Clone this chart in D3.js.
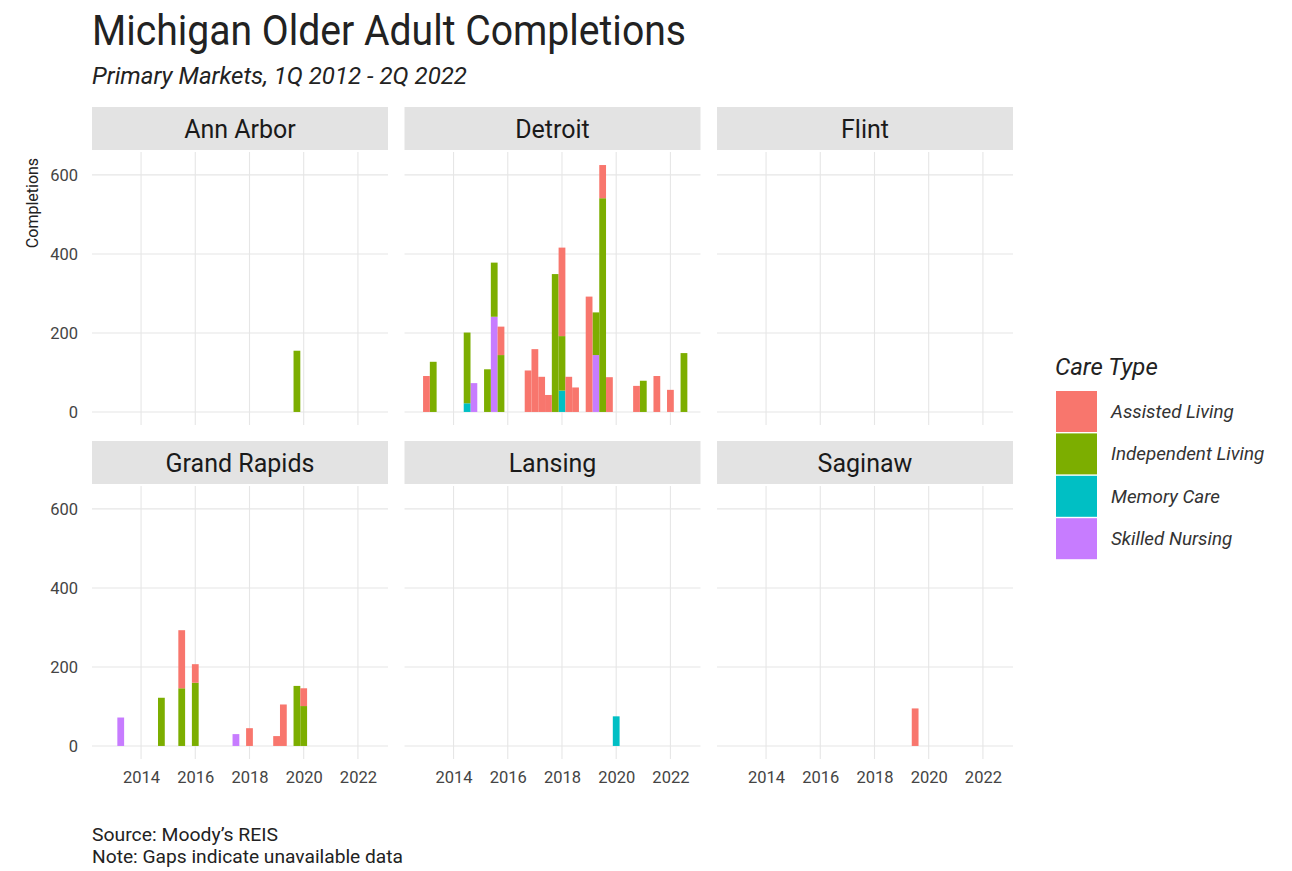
<!DOCTYPE html>
<html>
<head>
<meta charset="utf-8">
<script src="https://cdnjs.cloudflare.com/ajax/libs/d3/7.8.5/d3.min.js"></script>
<style>
  body { margin: 0; background: #fff; }
  text { font-family: Roboto, "Noto Sans", sans-serif; }
</style>
</head>
<body>
<div id="chart"></div>
<script>
(function() {
  // care types in legend order (first level is drawn on top of the stack)
  const careTypes = ['Assisted Living', 'Independent Living', 'Memory Care', 'Skilled Nursing'];
  const careColors = ['#F8766D', '#7CAE00', '#00BFC4', '#C77CFF'];

  const markets = ['Ann Arbor', 'Detroit', 'Flint', 'Grand Rapids', 'Lansing', 'Saginaw'];

  // rows: quarter, Assisted, Independent, Memory, Skilled
  const annArbor = [
    ['2019Q3', 0, 155, 0, 0]
  ];
  const detroit = [
    ['2012Q4', 91, 0, 0, 0],
    ['2013Q1', 0, 127, 0, 0],
    ['2014Q2', 0, 179, 22, 0],
    ['2014Q3', 0, 0, 0, 73],
    ['2015Q1', 0, 108, 0, 0],
    ['2015Q2', 0, 137, 0, 241],
    ['2015Q3', 72, 144, 0, 0],
    ['2016Q3', 105, 0, 0, 0],
    ['2016Q4', 159, 0, 0, 0],
    ['2017Q1', 89, 0, 0, 0],
    ['2017Q2', 43, 0, 0, 0],
    ['2017Q3', 0, 349, 0, 0],
    ['2017Q4', 224, 138, 54, 0],
    ['2018Q1', 89, 0, 0, 0],
    ['2018Q2', 62, 0, 0, 0],
    ['2018Q4', 292, 0, 0, 0],
    ['2019Q1', 0, 108, 0, 144],
    ['2019Q2', 84, 541, 0, 0],
    ['2019Q3', 88, 0, 0, 0],
    ['2020Q3', 66, 0, 0, 0],
    ['2020Q4', 0, 79, 0, 0],
    ['2021Q2', 91, 0, 0, 0],
    ['2021Q4', 56, 0, 0, 0],
    ['2022Q2', 0, 149, 0, 0]
  ];
  const flint = [];
  const grandRapids = [
    ['2013Q1', 0, 0, 0, 72],
    ['2014Q3', 0, 122, 0, 0],
    ['2015Q2', 147, 146, 0, 0],
    ['2015Q4', 47, 160, 0, 0],
    ['2017Q2', 0, 0, 0, 30],
    ['2017Q4', 45, 0, 0, 0],
    ['2018Q4', 25, 0, 0, 0],
    ['2019Q1', 105, 0, 0, 0],
    ['2019Q3', 0, 152, 0, 0],
    ['2019Q4', 45, 101, 0, 0]
  ];
  const lansing = [
    ['2019Q4', 0, 0, 75, 0]
  ];
  const saginaw = [
    ['2019Q2', 95, 0, 0, 0]
  ];
  const marketData = [annArbor, detroit, flint, grandRapids, lansing, saginaw];

  const yearTicks = [2014, 2016, 2018, 2020, 2022];
  const valueTicks = [0, 200, 400, 600];

  const width = 1292, height = 871;
  const panelW = 296, panelH = 273;
  const colX = [92, 404.5, 717];
  const rowY = [152, 486];

  const svg = d3.select('#chart')
    .append('svg')
      .attr('width', width)
      .attr('height', height);

  const x = d3.scaleLinear().domain([2012.19, 2023.11]).range([0, panelW]);
  const y = d3.scaleLinear().domain([-33, 658]).range([panelH, 0]);
  const color = d3.scaleOrdinal().domain(careTypes).range(careColors);

  // quarter "2019Q3" -> end-of-quarter decimal year
  const qPos = q => +q.slice(0, 4) + (+q.slice(5)) / 4;
  const barW = x(0.25) - x(0);

  // bottom of stack first: Skilled, Memory, Independent, Assisted
  const stack = d3.stack().keys(careTypes.slice().reverse());

  // titles
  svg.append('text')
    .attr('x', 92).attr('y', 45)
    .attr('font-size', 42).attr('fill', '#222')
    .attr('textLength', 594).attr('lengthAdjust', 'spacingAndGlyphs')
    .text('Michigan Older Adult Completions');

  svg.append('text')
    .attr('x', 92).attr('y', 84)
    .attr('font-size', 23).attr('font-style', 'italic').attr('fill', '#222')
    .attr('textLength', 375).attr('lengthAdjust', 'spacingAndGlyphs')
    .text('Primary Markets, 1Q 2012 - 2Q 2022');

  markets.forEach((name, i) => {
    const col = i % 3, row = Math.floor(i / 3);
    const g = svg.append('g')
      .attr('transform', `translate(${colX[col]}, ${rowY[row]})`);

    // strip
    g.append('rect')
      .attr('x', 0).attr('y', -45)
      .attr('width', panelW).attr('height', 43)
      .attr('fill', '#e3e3e3');
    g.append('text')
      .attr('x', panelW / 2).attr('y', -14)
      .attr('text-anchor', 'middle')
      .attr('font-size', 25).attr('fill', '#1a1a1a')
      .text(name);

    // grid
    g.selectAll('.hgrid')
      .data(valueTicks)
      .enter().append('line')
      .attr('x1', 0).attr('x2', panelW)
      .attr('y1', d => y(d)).attr('y2', d => y(d))
      .attr('stroke', '#e6e6e6').attr('stroke-width', 1.1);
    g.selectAll('.vgrid')
      .data(yearTicks)
      .enter().append('line')
      .attr('x1', d => x(d)).attr('x2', d => x(d))
      .attr('y1', 0).attr('y2', panelH)
      .attr('stroke', '#e6e6e6').attr('stroke-width', 1.1);

    // bars
    const rows = marketData[i].map(r => {
      const o = { pos: qPos(r[0]) };
      careTypes.forEach((c, k) => { o[c] = r[k + 1]; });
      return o;
    });
    const layers = stack(rows);
    g.selectAll('.layer')
      .data(layers)
      .enter().append('g')
      .attr('fill', d => color(d.key))
      .selectAll('rect')
      .data(d => d.filter(s => s[1] > s[0]))
      .enter().append('rect')
      .attr('x', d => x(d.data.pos) - barW / 2)
      .attr('width', barW)
      .attr('y', d => y(d[1]))
      .attr('height', d => y(d[0]) - y(d[1]));

    // axes
    if (col === 0) {
      const ay = g.append('g')
        .call(d3.axisLeft(y).tickValues(valueTicks).tickSize(0).tickPadding(14));
      ay.select('.domain').remove();
      ay.selectAll('text').attr('font-size', 16.5).attr('fill', '#444')
        .style('font-family', 'Roboto, sans-serif');
    }
    if (row === 1) {
      const ax = g.append('g')
        .attr('transform', `translate(0, ${panelH})`)
        .call(d3.axisBottom(x).tickValues(yearTicks).tickFormat(d3.format('d')).tickSize(0).tickPadding(12));
      ax.select('.domain').remove();
      ax.selectAll('text').attr('font-size', 16.5).attr('fill', '#444')
        .style('font-family', 'Roboto, sans-serif');
    }
  });

  // y axis title
  svg.append('text')
    .attr('transform', 'translate(38, 203) rotate(-90)')
    .attr('text-anchor', 'middle')
    .attr('font-size', 16).attr('fill', '#222')
    .text('Completions');

  // legend
  const legend = svg.append('g').attr('transform', 'translate(1056, 391)');
  legend.append('text')
    .attr('x', -1).attr('y', -16)
    .attr('font-size', 24).attr('font-style', 'italic').attr('fill', '#222')
    .text('Care Type');
  const item = legend.selectAll('.item')
    .data(careTypes)
    .enter().append('g')
    .attr('transform', (d, i) => `translate(0, ${i * 42.4})`);
  item.append('rect')
    .attr('width', 41).attr('height', 41)
    .attr('fill', d => color(d));
  item.append('text')
    .attr('x', 55).attr('y', 27)
    .attr('font-size', 18.8).attr('font-style', 'italic').attr('fill', '#333')
    .text(d => d);

  // caption
  svg.append('text')
    .attr('x', 92).attr('y', 841)
    .attr('font-size', 18.5).attr('fill', '#222')
    .attr('textLength', 186).attr('lengthAdjust', 'spacingAndGlyphs')
    .text('Source: Moody\u2019s REIS');
  svg.append('text')
    .attr('x', 92).attr('y', 863)
    .attr('font-size', 18.5).attr('fill', '#222')
    .attr('textLength', 311).attr('lengthAdjust', 'spacingAndGlyphs')
    .text('Note: Gaps indicate unavailable data');
})();
</script>
</body>
</html>
